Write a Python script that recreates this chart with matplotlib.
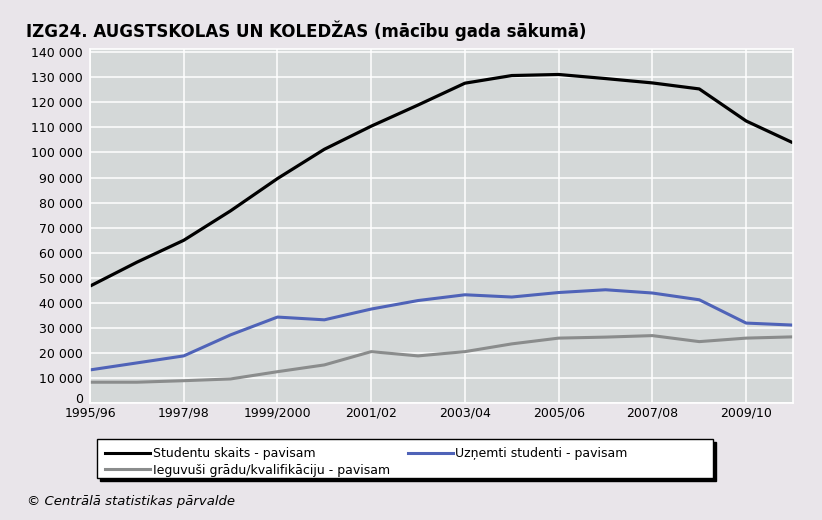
import matplotlib.pyplot as plt
from matplotlib.patches import Rectangle
from matplotlib.lines import Line2D
from matplotlib.ticker import FuncFormatter
from matplotlib.transforms import ScaledTranslation
import numpy as np

plt.rcParams['font.family'] = ['DejaVu Sans']

# mācību gadi
years = ['1995/96', '1996/97', '1997/98', '1998/99', '1999/2000', '2000/01', '2001/02', '2002/03',
         '2003/04', '2004/05', '2005/06', '2006/07', '2007/08', '2008/09', '2009/10', '2010/11']

studenti = [46653, 56187, 64946, 76707, 89584, 101270, 110500, 118944,
            127656, 130706, 131125, 129497, 127760, 125360, 112567, 103856]
uznemti = [13200, 16000, 18800, 27200, 34300, 33200, 37500, 40900,
           43200, 42300, 44100, 45200, 43900, 41200, 31900, 31100]
ieguvusi = [8300, 8300, 8900, 9600, 12500, 15200, 20500, 18800,
            20500, 23600, 25900, 26300, 26900, 24500, 25900, 26400]

labels = ['Studentu skaits - pavisam', 'Uzņemti studenti - pavisam',
          'Ieguvuši grādu/kvalifikāciju - pavisam']
colors = ['#000000', '#4f63b8', '#8a8c8c']

W, H = 822, 520
bg = '#e9e5ea'
fig = plt.figure(figsize=(W / 100, H / 100), dpi=100, facecolor=bg)
ax = fig.add_axes([90 / W, 117 / H, 703 / W, 354 / H])
ax.set_facecolor('#d4d8d8')

x = np.arange(len(years))
ax.plot(x, ieguvusi, color=colors[2], lw=2.2, solid_capstyle='butt')
ax.plot(x, uznemti, color=colors[1], lw=2.2, solid_capstyle='butt')
ax.plot(x, studenti, color=colors[0], lw=2.3, solid_capstyle='butt')

ax.set_xlim(0, len(years) - 1)
ax.set_ylim(0, 141300)
ax.set_yticks(np.arange(0, 140001, 10000))
ax.yaxis.set_major_formatter(FuncFormatter(lambda v, p: f'{int(v):,}'.replace(',', ' ')))
ax.set_xticks(x[::2])
ax.set_xticklabels(years[::2])
ax.tick_params(length=0, labelsize=9, colors='black')
ax.tick_params(axis='y', pad=5)
ax.tick_params(axis='x', pad=2.5)
ax.grid(True, color='white', lw=1.1)
ax.set_axisbelow(True)
for s in ax.spines.values():
    s.set_color('white')
    s.set_linewidth(1.2)

# "0" nedaudz virs gada etiķetes
fig.canvas.draw()
zero = ax.get_yticklabels()[0]
zero.set_transform(zero.get_transform() + ScaledTranslation(0, 5 / 100, fig.dpi_scale_trans))

fig.text(26 / W, 1 - 31 / H, 'IZG24. AUGSTSKOLAS UN KOLEDŽAS (mācību gada sākumā)',
         fontsize=12, fontweight='bold', va='center', ha='left')

# leģendas rāmis ar ēnu
bx, by, bw, bh = 97, 439, 616, 39
fig.patches.append(Rectangle(((bx + 3) / W, 1 - (by + bh + 3) / H), bw / W, bh / H,
                             transform=fig.transFigure, facecolor='black', edgecolor='black', zorder=1))
fig.patches.append(Rectangle((bx / W, 1 - (by + bh) / H), bw / W, bh / H,
                             transform=fig.transFigure, facecolor='white', edgecolor='black',
                             lw=1, zorder=2))

handles = [Line2D([], [], color=colors[0], lw=2.2),
           Line2D([], [], color=colors[2], lw=2.2),
           Line2D([], [], color=colors[1], lw=2.2)]
leg = fig.legend(handles, [labels[0], labels[2], labels[1]], ncol=2,
                 loc='upper left', bbox_to_anchor=(105 / W, 1 - 447 / H),
                 frameon=False, fontsize=9, handlelength=3.6, handletextpad=0.2,
                 columnspacing=1.45, labelspacing=0.3, borderpad=0, borderaxespad=0)
leg.set_zorder(3)

fig.text(27 / W, 1 - 502 / H, '© Centrālā statistikas pārvalde', fontsize=9.5,
         style='italic', va='center', ha='left')

fig.savefig('out.png', dpi=100, facecolor=bg)
